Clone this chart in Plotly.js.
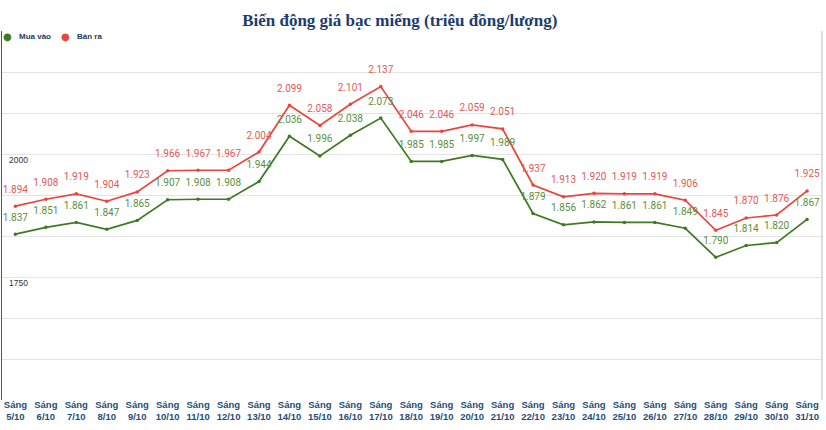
<!DOCTYPE html>
<html>
<head>
<meta charset="utf-8">
<script src="https://cdn.plot.ly/plotly-3.0.1.min.js"></script>
<style>
html,body{margin:0;padding:0;background:#fff;}
#chart{width:826px;height:430px;}
</style>
</head>
<body>
<div id="chart"></div>
<script>
const categories = ["5/10","6/10","7/10","8/10","9/10","10/10","11/10","12/10","13/10","14/10","15/10","16/10","17/10","18/10","19/10","20/10","21/10","22/10","23/10","24/10","25/10","26/10","27/10","28/10","29/10","30/10","31/10"];
const muaVao = [1837,1851,1861,1847,1865,1907,1908,1908,1944,2036,1996,2038,2073,1985,1985,1997,1989,1879,1856,1862,1861,1861,1849,1790,1814,1820,1867];
const banRa  = [1894,1908,1919,1904,1923,1966,1967,1967,2004,2099,2058,2101,2137,2046,2046,2059,2051,1937,1913,1920,1919,1919,1906,1845,1870,1876,1925];
const seriesNames = ["Mua vào","Bán ra"];
const tickPrefix = "Sáng";
const yGrid = [1500,1583.33,1666.67,1750,1833.33,1916.67,2000,2083.33,2166.67,2250];
const yLabelVals = [1750,2000];
const yLabels = ["1750","2000"];

const GREEN = "#3f7a22", RED = "#e8453c";
const GREEN_T = "#5a8f3a", RED_T = "#e25a55";
const NAVY = "#1f3a64";

function lineTrace(y, color, name){
  return {x: categories, y: y, type: "scatter", mode: "lines+markers", name: name,
    line: {color: color, width: 1.7}, marker: {color: color, size: 3.5},
    showlegend: false, hoverinfo: "skip"};
}
function textTrace(y, color){
  return {x: categories, y: y, type: "scatter", mode: "markers+text",
    marker: {size: 16, color: "rgba(0,0,0,0)"},
    texttemplate: "%{y:,}", textposition: "top center",
    textfont: {family: "Roboto, Arial, sans-serif", size: 10, color: color},
    showlegend: false, hoverinfo: "skip", cliponaxis: false};
}

const data = [
  lineTrace(muaVao, GREEN, seriesNames[0]), lineTrace(banRa, RED, seriesNames[1]),
  textTrace(muaVao, GREEN_T), textTrace(banRa, RED_T)
];

// legend drawn as annotations (dot + label)
const legY = 0.9846;
const legFont = {family: "Arial, Liberation Sans, sans-serif", size: 8, color: NAVY, weight: "bold"};
const annotations = [
  {xref: "paper", yref: "paper", x: 0.0061, y: legY, xanchor: "center", yanchor: "middle", showarrow: false,
    text: "●", font: {family: "DejaVu Sans, sans-serif", size: 10, color: GREEN}},
  {xref: "paper", yref: "paper", x: 0.0183, y: legY, xanchor: "left", yanchor: "middle", showarrow: false,
    text: seriesNames[0], font: legFont},
  {xref: "paper", yref: "paper", x: 0.0780, y: legY, xanchor: "center", yanchor: "middle", showarrow: false,
    text: "●", font: {family: "DejaVu Sans, sans-serif", size: 10, color: RED}},
  {xref: "paper", yref: "paper", x: 0.0890, y: legY, xanchor: "left", yanchor: "middle", showarrow: false,
    text: seriesNames[1], font: legFont}
].concat(yLabelVals.map((v, i) => ({
  xref: "paper", yref: "y", x: 0.0055, y: v, xanchor: "left", yanchor: "top", yshift: 1,
  showarrow: false, text: yLabels[i],
  font: {family: "Arial, Liberation Sans, sans-serif", size: 8.5, color: "#333"}
})));

const layout = {
  width: 826, height: 430,
  margin: {l: 2, r: 4, t: 31, b: 30},
  paper_bgcolor: "#fff", plot_bgcolor: "#fff",
  separators: ",.",
  title: {text: "Biến động giá bạc miếng (triệu đồng/lượng)",
    font: {family: "Liberation Serif, Times New Roman, serif", size: 17, color: "#1c3d6e", weight: "bold"},
    x: 0.484, xanchor: "center", y: 0.953, yanchor: "middle"},
  showlegend: false,
  annotations: annotations,
  xaxis: {type: "category", range: [-0.44, 26.49],
    tickvals: categories, ticktext: categories.map(c => tickPrefix + "<br>" + c),
    tickfont: {family: "Arial, Liberation Sans, sans-serif", size: 9.5, color: "#1f4e79", weight: "bold"},
    ticklabeloverflow: "allow", ticklabelstandoff: -3,
    showgrid: false, zeroline: false, showline: false, ticks: "", fixedrange: true},
  yaxis: {range: [1500, 2250], tickvals: yGrid, showticklabels: false,
    showgrid: true, gridcolor: "#e4e4e4", gridwidth: 1, zeroline: false,
    showline: true, linecolor: "#555", linewidth: 1.5, ticks: "", fixedrange: true},
  shapes: [{type: "line", xref: "paper", yref: "paper", x0: 1, x1: 1, y0: 0, y1: 1,
    line: {color: "#bbb", width: 1}}]
};

Plotly.newPlot("chart", data, layout, {displayModeBar: false, staticPlot: true});
</script>
</body>
</html>
